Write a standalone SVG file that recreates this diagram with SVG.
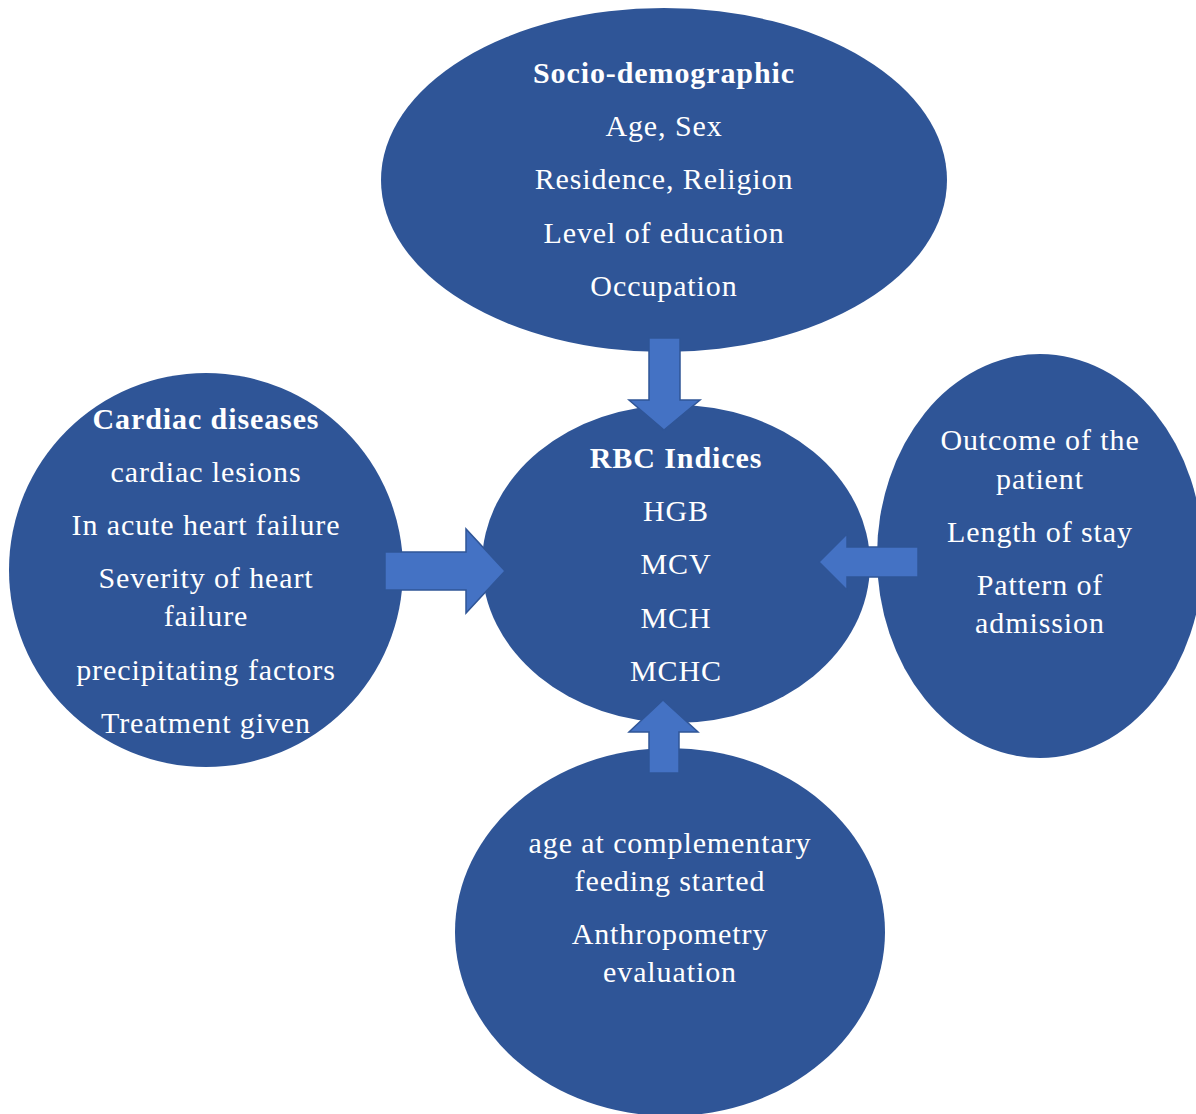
<svg xmlns="http://www.w3.org/2000/svg" width="1196" height="1114" viewBox="0 0 1196 1114">
<style>
.node{fill:#2F5597;}
.arrow{fill:#4472C4;stroke:#2F5597;stroke-width:1.5;}
text{font-family:"Liberation Serif","Times New Roman",serif;font-size:30px;letter-spacing:0.9px;fill:#FFFFFF;text-anchor:middle;}
.b{font-weight:bold;}
</style>
<rect width="1196" height="1114" fill="#FFFFFF"/>
<g id="socio">
<ellipse class="node" cx="664" cy="180" rx="283" ry="172"/>
<text class="b" x="664" y="83">Socio-demographic</text>
<text x="664" y="136">Age, Sex</text>
<text x="664" y="189">Residence, Religion</text>
<text x="664" y="243">Level of education</text>
<text x="664" y="296">Occupation</text>
</g>
<g id="cardiac">
<ellipse class="node" cx="206" cy="570" rx="197" ry="197"/>
<text class="b" x="206" y="429">Cardiac diseases</text>
<text x="206" y="482">cardiac lesions</text>
<text x="206" y="535">In acute heart failure</text>
<text x="206" y="588">Severity of heart</text>
<text x="206" y="626">failure</text>
<text x="206" y="680">precipitating factors</text>
<text x="206" y="733">Treatment given</text>
</g>
<g id="outcome">
<ellipse class="node" cx="1040" cy="556" rx="163" ry="202"/>
<text x="1040" y="450">Outcome of the</text>
<text x="1040" y="489">patient</text>
<text x="1040" y="542">Length of stay</text>
<text x="1040" y="595">Pattern of</text>
<text x="1040" y="633">admission</text>
</g>
<g id="feeding">
<ellipse class="node" cx="670" cy="932" rx="215" ry="184"/>
<text x="670" y="853">age at complementary</text>
<text x="670" y="891">feeding started</text>
<text x="670" y="944">Anthropometry</text>
<text x="670" y="982">evaluation</text>
</g>
<g id="rbc">
<ellipse class="node" cx="676" cy="564" rx="194" ry="159"/>
<text class="b" x="676" y="468">RBC Indices</text>
<text x="676" y="521">HGB</text>
<text x="676" y="574">MCV</text>
<text x="676" y="628">MCH</text>
<text x="676" y="681">MCHC</text>
</g>
<g id="connectors">
<polygon class="arrow" points="649,338 680,338 680,400 700,400 664,430 629,400 649,400"/>
<polygon class="arrow" points="385,552 466,552 466,529 505,571 466,613 466,590 385,590"/>
<polygon class="arrow" points="918,547 847,547 847,534 819,562 847,590 847,577 918,577"/>
<polygon class="arrow" points="649,773 679,773 679,732 698,732 663,700 629,732 649,732"/>
</g>
</svg>
